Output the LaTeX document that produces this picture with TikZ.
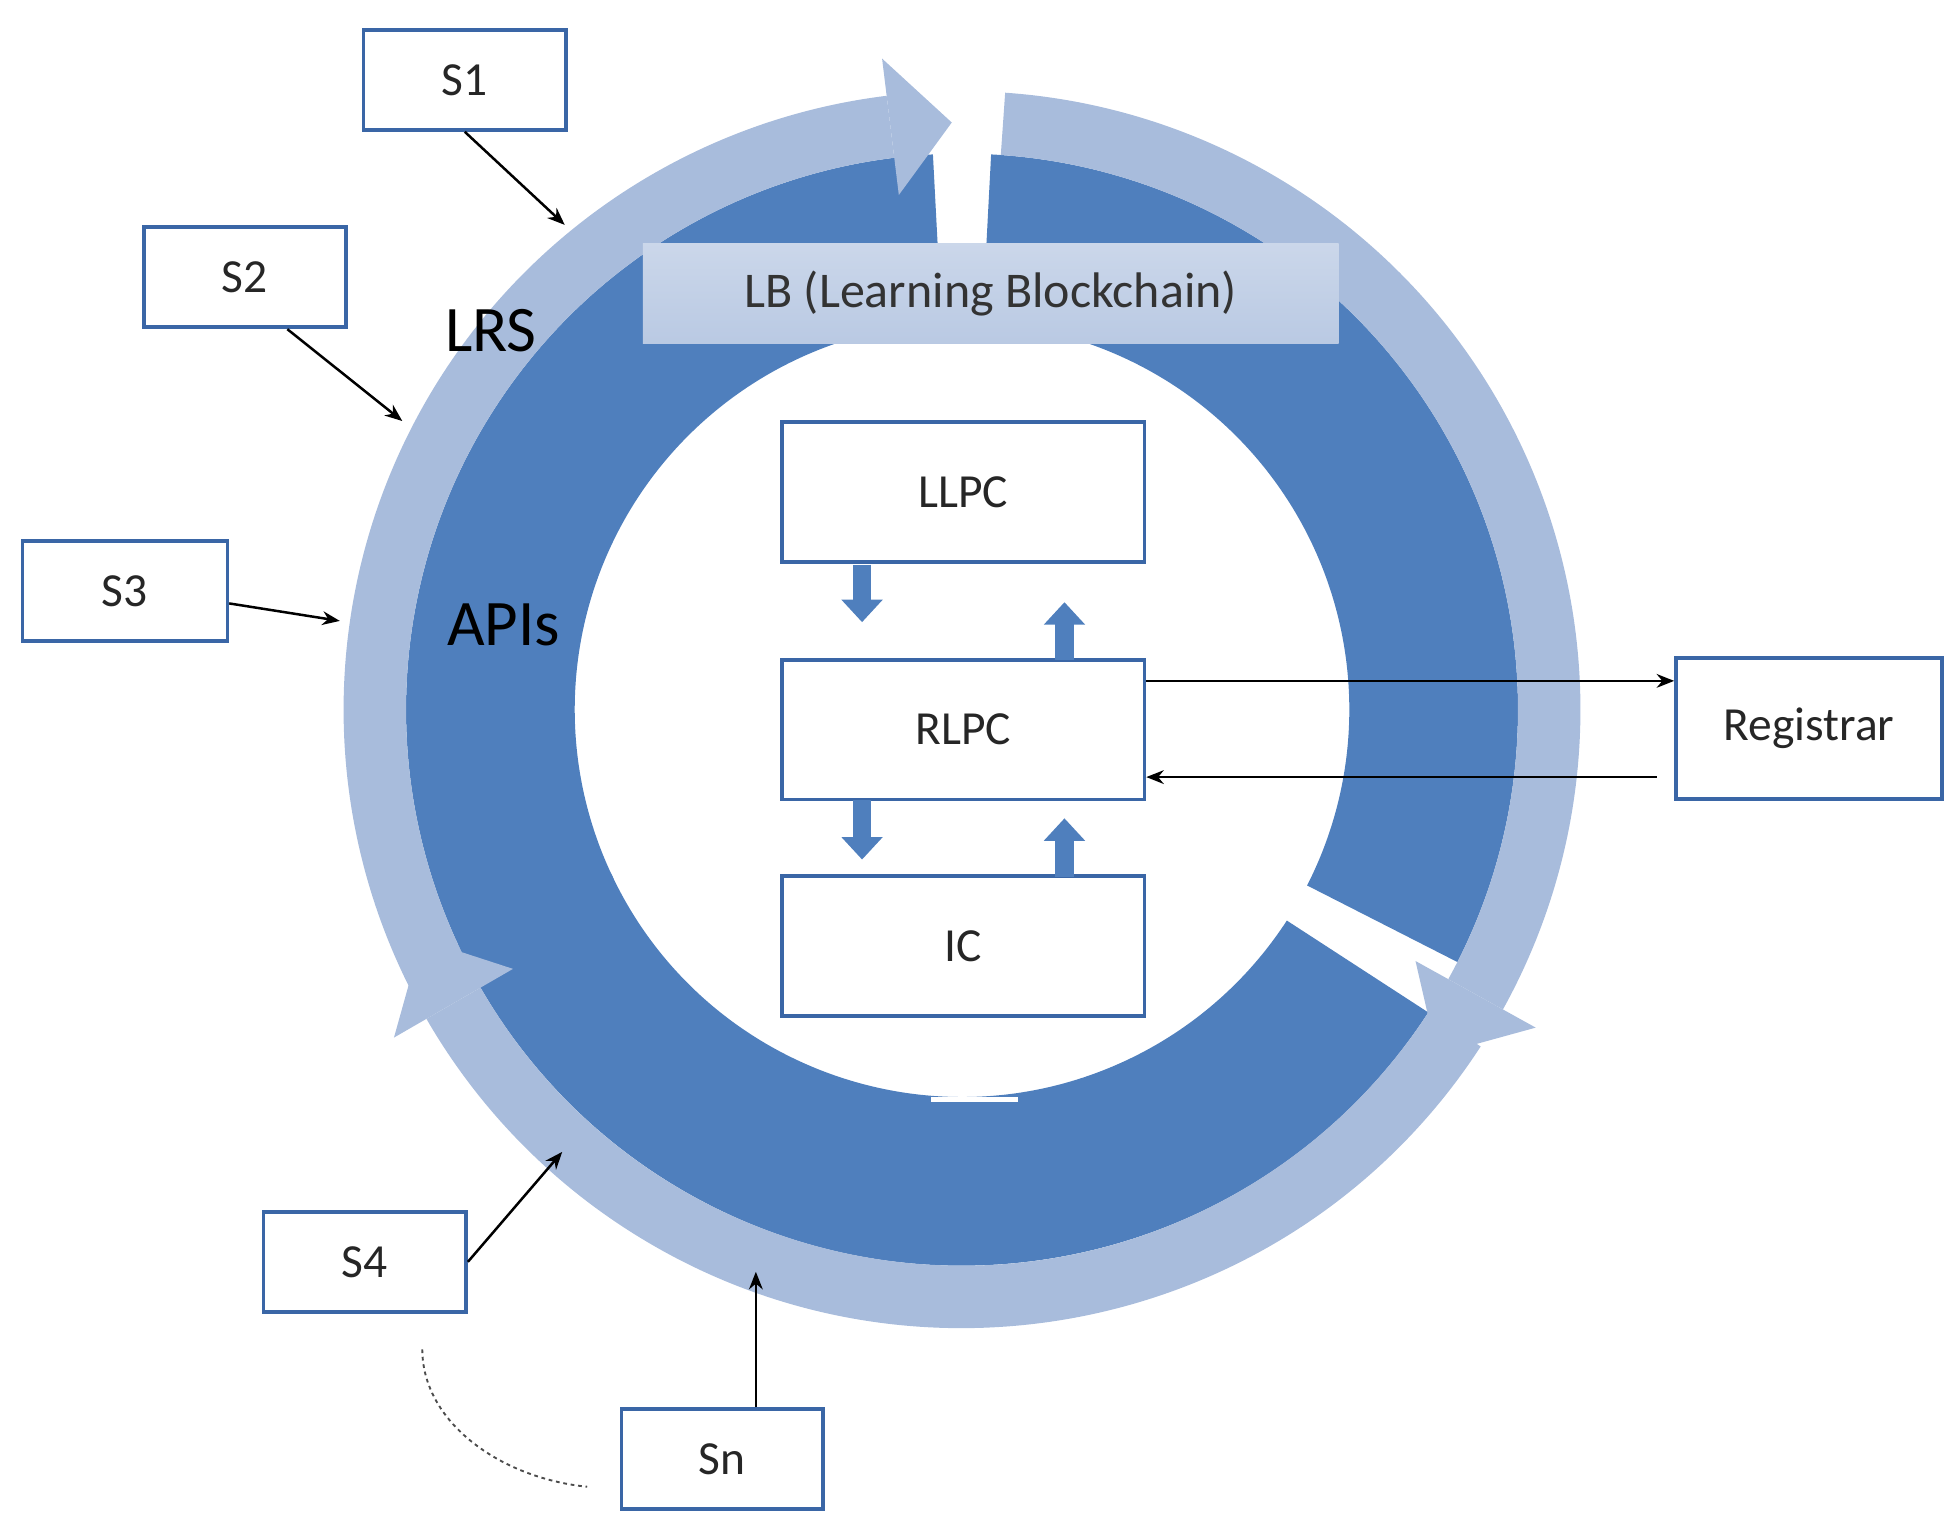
\documentclass[tikz,border=0pt]{standalone}
\usepackage{fontspec}
\setmainfont{Carlito}
\usetikzlibrary{arrows.meta}
\definecolor{dk}{HTML}{4F7FBD}
\definecolor{lt}{HTML}{A8BCDC}
\definecolor{bd}{HTML}{3A66A6}
\begin{document}
\begin{tikzpicture}[x=1pt,y=1pt,
  box/.style={draw=bd,line width=3pt,fill=white,minimum width=290pt,minimum height=112pt,font=\fontsize{38}{42}\selectfont,text=black!85},
  sbox/.style={draw=bd,line width=3pt,fill=white,minimum width=162pt,minimum height=80pt,font=\fontsize{38}{42}\selectfont,text=black!85},
  con/.style={line width=2pt,-{Stealth[length=14pt,width=11pt]}},
  blk/.style={line width=15pt,dk,-{Triangle[width=32pt,length=18pt]}}]
\useasboundingbox (0,0) rectangle (1568,1228);
\begin{scope}[shift={(770,660)}]
\fill[dk] (93:310pt) arc[start angle=93,end angle=206,radius=310pt] -- (206:445pt) arc[start angle=206,end angle=93,radius=445pt] -- cycle;
\fill[dk] (-27:310pt) arc[start angle=-27,end angle=87,radius=310pt] -- (87:445pt) arc[start angle=87,end angle=-27,radius=445pt] -- cycle;
\fill[dk] (-155:310pt) arc[start angle=-155,end angle=-33,radius=310pt] -- (-33:445pt) arc[start angle=-33,end angle=-155,radius=445pt] -- cycle;
\fill[lt] (97:445pt) arc[start angle=97,end angle=208,radius=445pt] -- (208:495pt) arc[start angle=208,end angle=97,radius=495pt] -- cycle;
\fill[lt] (97:415pt) -- (91:470pt) -- (97:525pt) -- cycle;
\fill[lt] (-29:445pt) arc[start angle=-29,end angle=86,radius=445pt] -- (86:495pt) arc[start angle=86,end angle=-29,radius=495pt] -- cycle;
\fill[lt] (-29:415pt) -- (-36:470pt) -- (-29:525pt) -- cycle;
\fill[lt] (-150:445pt) arc[start angle=-150,end angle=-33,radius=445pt] -- (-33:495pt) arc[start angle=-33,end angle=-150,radius=495pt] -- cycle;
\fill[lt] (-150:415pt) -- (-157:470pt) -- (-150:525pt) -- cycle;
\end{scope}
\draw[white,line width=4pt] (745,348) -- (815,348);
\node[minimum width=557pt,minimum height=80pt,top color=white!40!lt,bottom color=lt!80!white,font=\fontsize{40}{44}\selectfont,text=black!80] (lb) at (793,993) {LB (Learning Blockchain)};
\node[font=\fontsize{52}{56}\selectfont] (lrs) at (393,963) {LRS};
\node[font=\fontsize{52}{56}\selectfont] (api) at (403,728) {APIs};
\node[box] (llpc) at (771,834) {LLPC};
\node[box] (rlpc) at (771,644) {RLPC};
\node[box] (ic) at (771,471) {IC};
\node[sbox,minimum width=213pt,minimum height=113pt] (reg) at (1448,645) {Registrar};
\node[sbox] (s1) at (372,1164) {S1};
\node[sbox] (s2) at (196,1006) {S2};
\node[sbox,minimum width=164pt] (s3) at (100,755) {S3};
\node[sbox] (s4) at (292,218) {S4};
\node[sbox,minimum width=161pt] (sn) at (578,60) {Sn};
\draw[blk] (690,776) -- (690,730);
\draw[blk] (852,700) -- (852,746);
\draw[blk] (690,588) -- (690,540);
\draw[blk] (852,526) -- (852,573);
\coordinate (t1) at (452,1048);
\coordinate (t2) at (322,891);
\coordinate (t3) at (272,731);
\coordinate (t4) at (450,306);
\coordinate (tn) at (605,210);
\coordinate (d1) at (338,148);
\coordinate (d2) at (470,38);
\draw[con] (s1.south) -- (t1);
\draw[con] ([xshift=34pt]s2.south) -- (t2);
\draw[con] ([yshift=-10pt]s3.east) -- (t3);
\draw[con] (s4.east) -- (t4);
\draw[con] ([xshift=27pt]sn.north) -- (tn);
\draw[con] ([yshift=39pt]rlpc.east) -- ([yshift=38pt]reg.west);
\draw[con] ([yshift=-39pt,xshift=-14pt]reg.west) -- ([yshift=-38pt]rlpc.east);
\draw[dashed,line width=1.5pt,black!70] (d1) .. controls (338,90) and (400,45) .. (d2);
\end{tikzpicture}
\end{document}
